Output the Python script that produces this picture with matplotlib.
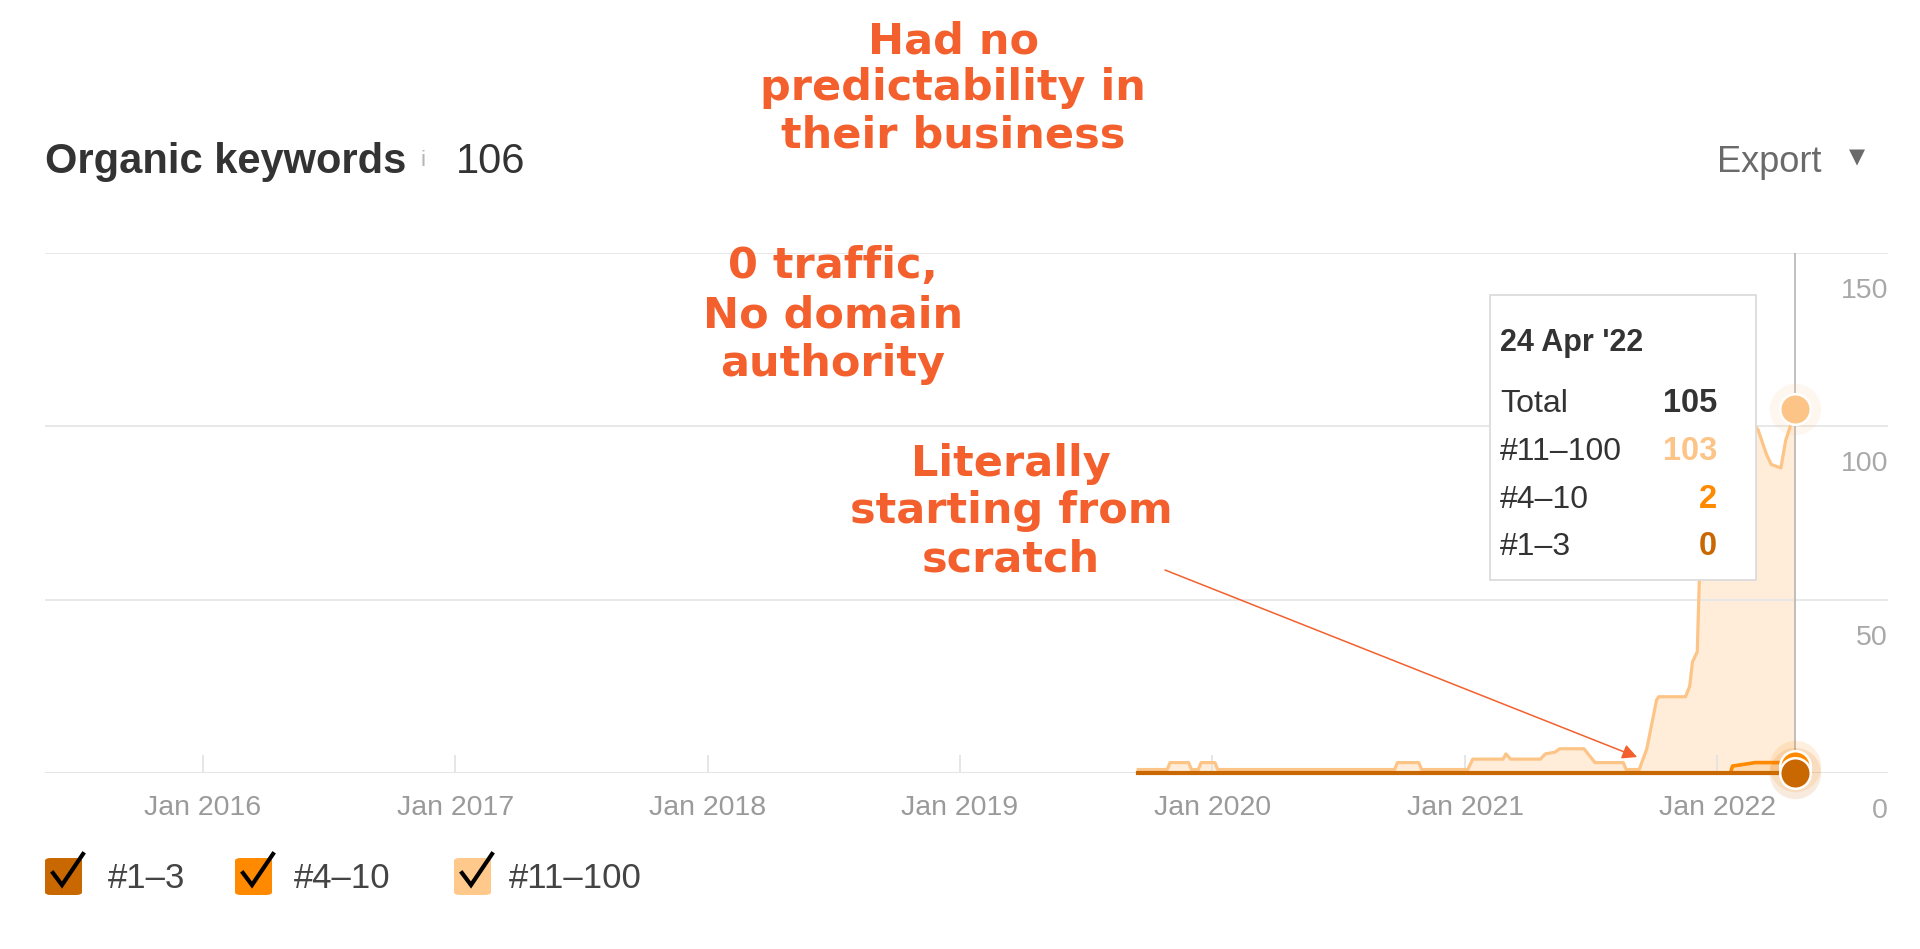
import matplotlib
matplotlib.use('Agg')
import matplotlib.pyplot as plt
import matplotlib.transforms as mtransforms
from matplotlib.patches import Rectangle, FancyBboxPatch
from matplotlib.lines import Line2D
import pandas as pd
import numpy as np

plt.rcParams['font.family'] = ['Liberation Sans', 'DejaVu Sans']

W, H = 1920, 949

# keyword counts per position bucket
dates = ['2019-09-16', '2019-10-28', '2019-11-01', '2019-11-28', '2019-12-02',
         '2019-12-12', '2019-12-16', '2020-01-05', '2020-01-09', '2020-09-21',
         '2020-09-25', '2020-10-26', '2020-10-30', '2021-01-05', '2021-01-12',
         '2021-02-25', '2021-03-01', '2021-03-08', '2021-04-20', '2021-04-27',
         '2021-05-11', '2021-05-18', '2021-06-22', '2021-07-04', '2021-07-08',
         '2021-08-18', '2021-08-22', '2021-09-10', '2021-09-21', '2021-10-05',
         '2021-10-08', '2021-11-16', '2021-11-22', '2021-11-26', '2021-12-03',
         '2021-12-06', '2021-12-20', '2022-01-20', '2022-01-23', '2022-02-25',
         '2022-03-01', '2022-03-13', '2022-03-20', '2022-04-03', '2022-04-10',
         '2022-04-15', '2022-04-24']
kw_11_100 = [1, 1, 3, 3, 1, 1, 3, 3, 1, 1,
             3, 3, 1, 1, 4, 4, 5.5, 4, 4, 5.5,
             6, 7, 7, 4, 3, 3, 1, 1, 7, 21,
             22, 22, 25, 32, 35, 56, 98, 100, 98, 97,
             96, 89, 86, 85, 93, 96, 103]
kw_4_10 = [0] * 38 + [2, 3, 3, 3, 3, 3, 3, 3, 2]
kw_1_3 = [0] * 47

y_ticks = [0, 50, 100, 150]
x_years = [2016, 2017, 2018, 2019, 2020, 2021, 2022]

tip_date = '24 Apr \'22'
tip_rows = [('Total', '105'), ('#11–100', '103'), ('#4–10', '2'), ('#1–3', '0')]
legend_labels = ['#1–3', '#4–10', '#11–100']

c_dark = '#c96800'
c_mid = '#ff8a00'
c_light = '#fdc487'
c_note = '#f3602d'


def fx(px):
    return px / W


def fy(py):
    return 1 - py / H


dates = pd.to_datetime(dates)
s1 = np.array(kw_1_3, dtype=float)
s2 = s1 + np.array(kw_4_10)
s3 = s2 + np.array(kw_11_100)

fig = plt.figure(figsize=(W / 100, H / 100), dpi=100)
ax = fig.add_axes([fx(45), fy(773), (1888 - 45) / W, (773 - 253) / H])

ax.fill_between(dates, s2, s3, color='#ffc98b', alpha=0.32, lw=0)
ax.fill_between(dates, s1, s2, color=c_mid, alpha=0.3, lw=0)
ax.plot(dates, s3, color=c_light, lw=2.3, clip_on=False, zorder=3)
ax.plot(dates, s2, color=c_mid, lw=2.6, clip_on=False, zorder=3)
ax.plot(dates, s1, color=c_dark, lw=3.0, clip_on=False, zorder=3)

# hover crosshair and markers
ax.axvline(dates[-1], color='#b5b5b5', lw=1.2, zorder=2)
for val, col in [(s3[-1], c_light), (s2[-1], c_mid), (s1[-1], c_dark)]:
    ax.plot([dates[-1]], [val], 'o', ms=37, color=col, alpha=0.13,
            mec='none', clip_on=False, zorder=5)
    ax.plot([dates[-1]], [val], 'o', ms=22, color=col, mec='white',
            mew=1.8, clip_on=False, zorder=6)

ax.set_xlim(pd.Timestamp('2015-05-18'), pd.Timestamp('2022-09-05'))
ax.set_ylim(0, 150)
ax.set_yticks(y_ticks)
ax.grid(axis='y', color='#e6e6e6', lw=1.3)
ax.axhline(0, color='#d8d8d8', lw=1.8, zorder=1)
for s in ax.spines.values():
    s.set_visible(False)
ax.tick_params(axis='y', length=0, labelleft=False)
ax.set_xticks([pd.Timestamp(f'{y}-01-01') for y in x_years])
ax.set_xticklabels([f'Jan {y}' for y in x_years])
ax.tick_params(axis='x', direction='in', length=13, width=1.2, color='#e2e2e2',
               labelsize=20.5, labelcolor='#9a9a9a', pad=16)

# y labels sit under the gridlines at the right edge
blend = mtransforms.blended_transform_factory(ax.transAxes, ax.transData)
below = mtransforms.offset_copy(blend, fig=fig, y=-38, units='dots')
for v in y_ticks:
    ax.text(1.0, v, str(v), transform=below, ha='right', va='center',
            fontsize=20.5, color='#a8a8a8')

# header
fig.text(fx(45), fy(173), 'Organic keywords', fontsize=30, fontweight='bold',
         color='#333333', va='baseline')
fig.text(fx(421), fy(166), 'i', fontsize=16, color='#b5b5b5', va='baseline')
fig.text(fx(456), fy(173), '106', fontsize=30, color='#333333', va='baseline')
fig.text(fx(1821), fy(172), 'Export', fontsize=26, color='#6a6a6a',
         va='baseline', ha='right')
fig.text(fx(1857), fy(157), '▼', fontsize=15, color='#6a6a6a',
         va='center', ha='center', family='DejaVu Sans')

# tooltip box
fig.patches.append(Rectangle((fx(1490), fy(580)), 266 / W, 285 / H,
                             transform=fig.transFigure, fc='white',
                             ec='#dcdcdc', lw=1.3, zorder=10))
fig.text(fx(1500), fy(351), tip_date, fontsize=22, fontweight='bold',
         color='#333333', va='baseline', zorder=11)
row_base = [412, 460, 508, 555]
row_cols = ['#333333', c_light, c_mid, c_dark]
for (lab, val), yb, col in zip(tip_rows, row_base, row_cols):
    fig.text(fx(1500), fy(yb), lab, fontsize=23, color='#333333',
             va='baseline', zorder=11)
    fig.text(fx(1717), fy(yb), val, fontsize=23.5, fontweight='bold', color=col,
             va='baseline', ha='right', zorder=11)

# legend checkboxes
box_x = [45, 235, 454]
label_x = [108, 294, 509]
for bx, lx, col, lab in zip(box_x, label_x, [c_dark, c_mid, '#ffc98b'], legend_labels):
    fig.patches.append(FancyBboxPatch((fx(bx), fy(895)), 37 / W, 37 / H,
                                      boxstyle='round,pad=0,rounding_size=0.003',
                                      transform=fig.transFigure, fc=col,
                                      ec='none', zorder=5))
    xs = [bx + 8, bx + 17, bx + 38]
    ys = [873, 885, 854]
    fig.add_artist(Line2D([fx(x) for x in xs], [fy(y) for y in ys],
                          transform=fig.transFigure, color='black', lw=3.0,
                          solid_joinstyle='miter', zorder=6))
    fig.text(fx(lx), fy(879), lab, fontsize=25, color='#444444', va='center')

# orange notes
notes = [
    (953, [(53, 'Had no'), (100, 'predictability in'), (147, 'their business')]),
    (833, [(278, '0 traffic,'), (328, 'No domain'), (376, 'authority')]),
    (1011, [(476, 'Literally'), (523, 'starting from'), (571, 'scratch')]),
]
for cx, lines in notes:
    for yb, txt in lines:
        fig.text(fx(cx), fy(yb), txt, fontsize=31, fontweight='bold',
                 family='DejaVu Sans', color=c_note, ha='center', va='baseline')

ax.annotate('', xy=(pd.Timestamp('2021-09-07'), 4.6), xycoords='data',
            xytext=(fx(1165), fy(570)), textcoords='figure fraction',
            arrowprops=dict(arrowstyle='-|>', color=c_note, lw=1.1,
                            mutation_scale=22, shrinkA=0, shrinkB=0),
            annotation_clip=False)

fig.savefig('out.png', dpi=100, facecolor='white')
